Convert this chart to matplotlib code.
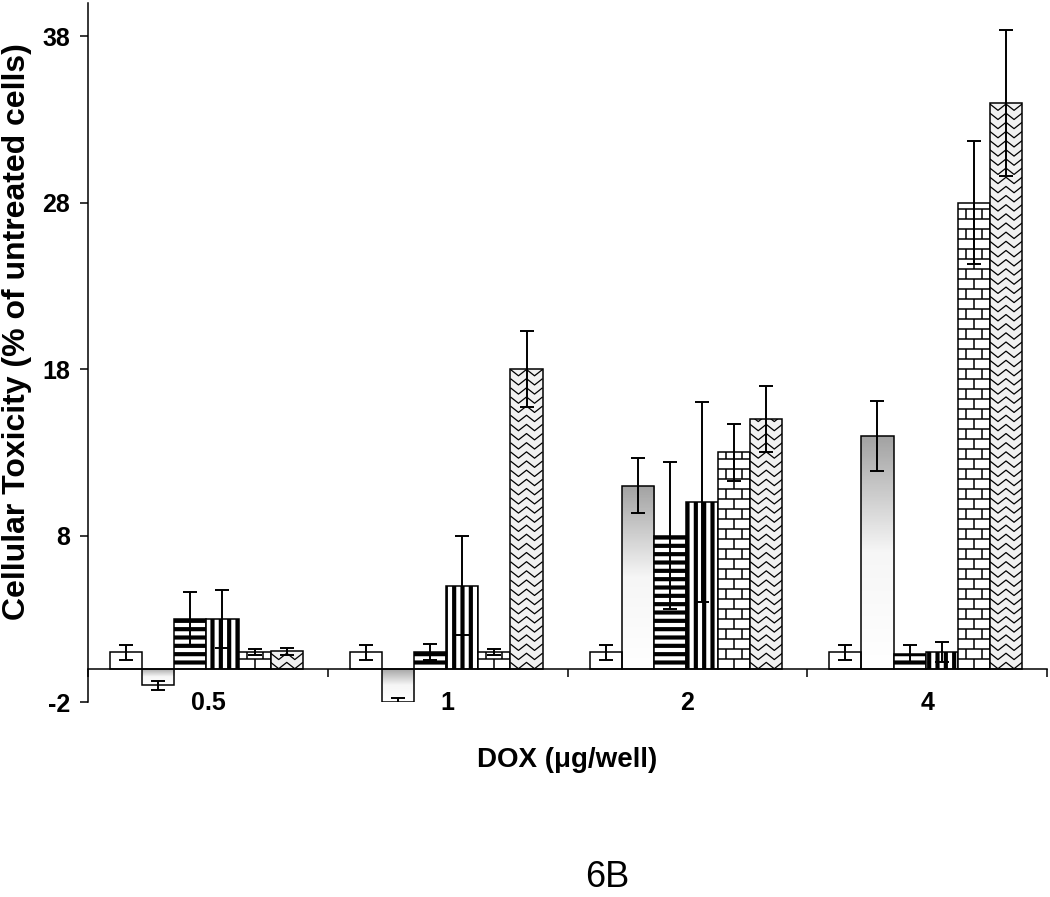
import matplotlib
matplotlib.use("Agg")
import matplotlib.pyplot as plt
from matplotlib.colors import LinearSegmentedColormap
from matplotlib.collections import LineCollection
import numpy as np

# data (% of untreated cells)
doses = ["0.5", "1", "2", "4"]
plain = [1.0, 1.0, 1.0, 1.0]
plain_err = [0.45, 0.45, 0.45, 0.45]
shaded = [-1.0, -2.0, 11.0, 14.0]
shaded_err = [0.25, 0.25, 1.65, 2.1]
hstripe = [3.0, 1.0, 8.0, 0.9]
hstripe_err = [1.6, 0.5, 4.4, 0.5]
vstripe = [3.0, 5.0, 10.0, 1.0]
vstripe_err = [1.75, 3.0, 6.0, 0.6]
brick = [1.0, 1.0, 13.0, 28.0]
brick_err = [0.2, 0.2, 1.7, 3.7]
wave = [1.05, 18.0, 15.0, 34.0]
wave_err = [0.2, 2.3, 2.0, 4.4]

yticks = [-2, 8, 18, 28, 38]

plt.rcParams['font.family'] = ['Liberation Sans', 'DejaVu Sans']
plt.rcParams['hatch.linewidth'] = 3.0
plt.rcParams['hatch.color'] = 'black'

fig = plt.figure(figsize=(10.5, 8.97), dpi=100)
ax = fig.add_axes([88 / 1050, 1 - 702 / 897, (1047 - 88) / 1050, (702 - 3) / 897])

width = 0.134
start = 0.092
lw_edge = 1.1
x0 = np.arange(len(doses))


def bar_x(j):
    return x0 + start + width * (j + 0.5)


def add_errors(x, vals, errs):
    ax.errorbar(x, vals, yerr=errs, fmt='none', ecolor='black', elinewidth=1.4,
                capsize=4.7, capthick=1.4, zorder=6)


# series 1: plain white
x = bar_x(0)
ax.bar(x, plain, width, color='white', edgecolor='black', linewidth=lw_edge, zorder=3)
add_errors(x, plain, plain_err)

# series 2: grey gradient
x = bar_x(1)
bars = ax.bar(x, shaded, width, color='none', edgecolor='black', linewidth=lw_edge, zorder=3)
grad_cmap = LinearSegmentedColormap.from_list('g', ['#ffffff', '#f6f6f6', '#a2a2a2'])
grad = np.linspace(1, 0, 200).reshape(-1, 1)
for b in bars:
    left, bottom = b.get_x(), b.get_y()
    w, h = b.get_width(), b.get_height()
    lo, hi = min(bottom, bottom + h), max(bottom, bottom + h)
    im = ax.imshow(grad, cmap=grad_cmap, extent=(left, left + w, lo, hi),
                   aspect='auto', origin='upper', zorder=2, interpolation='bilinear')
    im.set_clip_path(b)
add_errors(x, shaded, shaded_err)

# series 3: thick horizontal stripes
x = bar_x(2)
ax.bar(x, hstripe, width, color='white', edgecolor='black', linewidth=lw_edge,
       hatch='--', zorder=3)
add_errors(x, hstripe, hstripe_err)

# series 4: thick vertical stripes
x = bar_x(3)
ax.bar(x, vstripe, width, color='white', edgecolor='black', linewidth=lw_edge,
       hatch='||', zorder=3)
add_errors(x, vstripe, vstripe_err)

# series 5: brick pattern
x = bar_x(4)
bars = ax.bar(x, brick, width, color='white', edgecolor='black', linewidth=lw_edge, zorder=3)
row = 0.6
for b in bars:
    left, w, top = b.get_x(), b.get_width(), b.get_height()
    segs = []
    nrows = int(np.ceil(top / row)) + 1
    for k in range(nrows):
        y = k * row
        segs.append([(left, y), (left + w, y)])
        if k % 2 == 0:
            xs = [left + w / 2]
        else:
            xs = [left + w / 4, left + 3 * w / 4]
        for xv in xs:
            segs.append([(xv, y), (xv, y + row)])
    lc = LineCollection(segs, colors='black', linewidths=1.1, zorder=4)
    ax.add_collection(lc)
    lc.set_clip_path(b)
add_errors(x, brick, brick_err)

# series 6: stacked zigzag pattern on dotted grey
x = bar_x(5)
bars = ax.bar(x, wave, width, color='#f1f1f1', edgecolor='black', linewidth=lw_edge, zorder=3)
wrow = 0.55
for b in bars:
    left, w, top = b.get_x(), b.get_width(), b.get_height()
    segs = []
    nrows = int(np.ceil(top / wrow)) + 1
    for k in range(nrows):
        y = k * wrow
        xs = left + np.linspace(0, w, 5)
        ys = y + np.array([0.38, 0, 0.38, 0, 0.38])
        segs.append(list(zip(xs, ys)))
    lc = LineCollection(segs, colors='black', linewidths=0.9, zorder=4)
    ax.add_collection(lc)
    lc.set_clip_path(b)
add_errors(x, wave, wave_err)

ax.set_xlim(0, len(doses))
ax.set_ylim(-2, 40)

for s in ['top', 'right']:
    ax.spines[s].set_visible(False)
ax.spines['bottom'].set_position(('data', 0))
ax.spines['bottom'].set_linewidth(1.1)
ax.spines['left'].set_linewidth(1.1)
ax.spines['bottom'].set_zorder(7)

ax.set_xticks(x0 + 0.5)
ax.set_xticklabels(doses, fontsize=18, fontweight='bold')
ax.set_xticks(np.arange(len(doses) + 1), minor=True)
ax.tick_params(axis='x', which='major', length=0, pad=16)
ax.tick_params(axis='x', which='minor', length=6, width=1.1, direction='out')

ax.set_yticks(yticks)
ax.set_yticklabels([str(v) for v in yticks], fontsize=18, fontweight='bold')
ax.tick_params(axis='y', length=6, width=1.1, direction='out', pad=7)

fig.text(17 / 1050, 1 - 332 / 897, "Cellular Toxicity (% of untreated cells)",
         rotation=90, ha='center', va='center', fontsize=23, fontweight='bold')
fig.text(567 / 1050, 1 - 760 / 897, "DOX (\u03bcg/well)", ha='center', va='center',
         fontsize=20, fontweight='bold')
fig.text(607 / 1050, 1 - 877 / 897, "6B", ha='center', va='center', fontsize=26)

fig.savefig("out.png", dpi=100)
